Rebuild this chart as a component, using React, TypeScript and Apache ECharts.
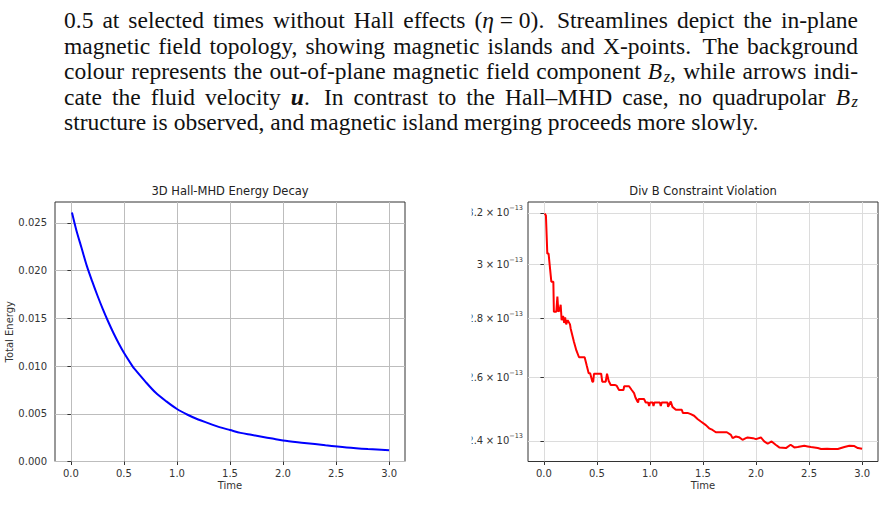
import { useEffect, useRef } from "react";
import * as echarts from "echarts";

// ---- Energy decay (left panel) ----
const ENERGY_TIME = [
  0.01, 0.05, 0.1, 0.15, 0.2, 0.25, 0.3, 0.35, 0.4, 0.45, 0.5, 0.58, 0.6, 0.7, 0.8, 0.9, 1.0,
  1.1, 1.2, 1.3, 1.4, 1.5, 1.6, 1.7, 1.8, 1.9, 2.0, 2.2, 2.4, 2.6, 2.8, 3.0,
];
const ENERGY_VALUE = [
  0.0261, 0.0243, 0.0224, 0.0205, 0.0189, 0.0174, 0.016, 0.0147, 0.0135, 0.0124, 0.0114, 0.01,
  0.0097, 0.0084, 0.0072, 0.0063, 0.0055, 0.0049, 0.0044, 0.004, 0.0036, 0.0033, 0.003, 0.0028,
  0.0026, 0.0024, 0.0022, 0.00195, 0.0017, 0.00148, 0.00131, 0.00117,
];

// ---- Div B violation (right panel), values in units of 1e-13 ----
const DIVB_UNIT = 1e-13;
const DIVB_TIME = [
  0.007, 0.019, 0.032, 0.044, 0.07, 0.089, 0.094, 0.117, 0.127, 0.136, 0.148, 0.158, 0.167, 0.181,
  0.191, 0.2, 0.21, 0.224, 0.246, 0.252, 0.266, 0.283, 0.306, 0.331, 0.384, 0.403, 0.422, 0.436,
  0.457, 0.465, 0.472, 0.54, 0.55, 0.583, 0.595, 0.611, 0.63, 0.668, 0.686, 0.708, 0.75, 0.757,
  0.803, 0.828, 0.85, 0.863, 0.882, 0.888, 0.894, 0.944, 0.96, 0.982, 0.992, 1.001, 1.026, 1.033,
  1.042, 1.093, 1.102, 1.111, 1.165, 1.171, 1.196, 1.212, 1.244, 1.3, 1.31, 1.354, 1.385, 1.416,
  1.451, 1.48, 1.527, 1.558, 1.59, 1.621, 1.725, 1.763, 1.779, 1.81, 1.839, 1.873, 1.904, 1.92,
  1.971, 1.999, 2.046, 2.077, 2.11, 2.147, 2.185, 2.219, 2.282, 2.326, 2.361, 2.393, 2.455, 2.487,
  2.518, 2.582, 2.613, 2.67, 2.707, 2.771, 2.833, 2.88, 2.927, 2.96, 3.0,
];
const DIVB_VALUE = [
  3.198, 3.19, 3.04, 3.04, 2.934, 2.934, 2.825, 2.825, 2.879, 2.825, 2.83, 2.85, 2.795, 2.81,
  2.785, 2.805, 2.78, 2.795, 2.78, 2.766, 2.745, 2.72, 2.69, 2.667, 2.667, 2.64, 2.614, 2.614,
  2.586, 2.586, 2.612, 2.612, 2.586, 2.586, 2.612, 2.588, 2.575, 2.575, 2.573, 2.559, 2.559, 2.571,
  2.571, 2.559, 2.549, 2.535, 2.522, 2.519, 2.53, 2.53, 2.519, 2.519, 2.508, 2.519, 2.519, 2.508,
  2.519, 2.519, 2.508, 2.519, 2.519, 2.505, 2.522, 2.505, 2.496, 2.496, 2.486, 2.486, 2.482, 2.477,
  2.466, 2.459, 2.448, 2.438, 2.433, 2.426, 2.426, 2.418, 2.408, 2.413, 2.411, 2.403, 2.408, 2.41,
  2.408, 2.405, 2.41, 2.398, 2.391, 2.398, 2.388, 2.38, 2.378, 2.388, 2.38, 2.381, 2.385, 2.383,
  2.381, 2.378, 2.375, 2.376, 2.375, 2.375, 2.381, 2.385, 2.384, 2.378, 2.376,
];

// ---- Ticks ----
const TIME_TICKS = [0, 0.5, 1, 1.5, 2, 2.5, 3];
const ENERGY_TICKS = [0, 0.005, 0.01, 0.015, 0.02, 0.025];
const DIVB_TICKS = [2.4, 2.6, 2.8, 3.0, 3.2];

const TITLES = ["3D Hall-MHD Energy Decay", "Div B Constraint Violation"];
const X_NAME = "Time";
const ENERGY_Y_NAME = "Total Energy";

// Caption text; {i:..} italic, {b:..} bold italic, {s:..} italic subscript
const CAPTION_LINES = [
  "0.5 at selected times without Hall effects ({i:η}\u00a0=\u00a00). Streamlines depict the in-plane",
  "magnetic field topology, showing magnetic islands and X-points. The background",
  "colour represents the out-of-plane magnetic field component {i:B}{s:z}, while arrows indi-",
  "cate the fluid velocity {b:u}. In contrast to the Hall–MHD case, no quadrupolar {i:B}{s:z}",
  "structure is observed, and magnetic island merging proceeds more slowly.",
];

const SANS = "DejaVu Sans";
const SERIF = "Liberation Serif";
const CAP_SIZE = 23.5;
const CAP_LEFT = 64;
const CAP_RIGHT = 858;
const CAP_TOP = 20;
const CAP_STEP = 25.5;

type Seg = { text: string; kind: string };

function parseWord(w: string): Seg[] {
  const segs: Seg[] = [];
  const re = /\{([ibs]):([^}]*)\}/g;
  let last = 0;
  let m: RegExpExecArray | null;
  while ((m = re.exec(w))) {
    if (m.index > last) segs.push({ text: w.slice(last, m.index), kind: "n" });
    segs.push({ text: m[2], kind: m[1] });
    last = re.lastIndex;
  }
  if (last < w.length) segs.push({ text: w.slice(last), kind: "n" });
  return segs;
}

function segStyle(kind: string) {
  return {
    fontStyle: kind === "n" ? "normal" : "italic",
    fontWeight: kind === "b" ? "bold" : "normal",
    fontSize: kind === "s" ? CAP_SIZE * 0.7 : CAP_SIZE,
  };
}

function buildCaption(): any[] {
  const canvas = document.createElement("canvas");
  const ctx = canvas.getContext("2d")!;
  const measure = (s: Seg) => {
    const st = segStyle(s.kind);
    ctx.font = `${st.fontStyle} ${st.fontWeight} ${st.fontSize}px "${SERIF}"`;
    // a subscript sits slightly clear of its base letter
    return ctx.measureText(s.text).width + (s.kind === "s" ? 1.5 : 0);
  };
  ctx.font = `normal normal ${CAP_SIZE}px "${SERIF}"`;
  const spaceW = ctx.measureText(" ").width;
  const out: any[] = [];
  CAPTION_LINES.forEach((line, li) => {
    const words = line.split(" ").map(parseWord);
    const widths = words.map((segs) => segs.reduce((a, s) => a + measure(s), 0));
    const total = widths.reduce((a, b) => a + b, 0);
    const justify = li < CAPTION_LINES.length - 1;
    // sentence ends get a little more room, as in typeset text
    const weights = words.slice(0, -1).map((segs) => {
      const last = segs[segs.length - 1].text;
      return /[.]$/.test(last) && !/^\d/.test(last) ? 1.4 : 1;
    });
    const wsum = weights.reduce((a, b) => a + b, 0);
    const unit = justify ? (CAP_RIGHT - CAP_LEFT - total) / wsum : spaceW;
    let x = CAP_LEFT;
    const y = CAP_TOP + li * CAP_STEP;
    words.forEach((segs, wi) => {
      let sx = x;
      segs.forEach((s) => {
        const st = segStyle(s.kind);
        out.push({
          type: "text",
          x: sx + (s.kind === "s" ? 1.5 : 0),
          y: y + (s.kind === "s" ? 5 : 0),
          silent: true,
          style: {
            text: s.text,
            fontFamily: SERIF,
            fontSize: st.fontSize,
            fontStyle: st.fontStyle,
            fontWeight: st.fontWeight,
            fill: "#111",
            align: "left",
            verticalAlign: "middle",
          },
        });
        sx += measure(s);
      });
      x += widths[wi] + (wi < weights.length ? unit * weights[wi] : 0);
    });
  });
  return out;
}

export default function App() {
  const ref = useRef<HTMLDivElement>(null);

  useEffect(() => {
    if (!ref.current) return;
    const chart = echarts.init(ref.current, undefined, { renderer: "svg" });

    const labelBase = { fontFamily: SANS, fontSize: 10, color: "#333" };
    const tickBase = { show: true, length: 3.5, lineStyle: { color: "#333", width: 1 } };
    const nameStyle = { fontFamily: SANS, fontSize: 10, color: "#333" };

    const divbMin = Math.log10(2.338 * DIVB_UNIT);
    const divbMax = Math.log10(3.2447 * DIVB_UNIT);
    const divbTickVals = DIVB_TICKS.map((m) => Math.log10(m * DIVB_UNIT));

    const timeAxis = (gridIndex: number, gridColor: string) => ({
      gridIndex,
      type: "value",
      min: -0.15,
      max: 3.15,
      axisLine: { show: false },
      axisTick: { ...tickBase, customValues: TIME_TICKS },
      axisLabel: {
        ...labelBase,
        margin: 7,
        customValues: TIME_TICKS,
        formatter: (v: number) => v.toFixed(1),
      },
      splitLine: { show: true, lineStyle: { color: gridColor, width: 1 } },
      name: X_NAME,
      nameLocation: "middle",
      nameGap: 19,
      nameTextStyle: nameStyle,
    });

    const option: any = {
      animation: false,
      backgroundColor: "#ffffff",
      grid: [
        {
          left: 55,
          top: 202,
          width: 350,
          height: 259.5,
          show: true,
          borderColor: "#333",
          borderWidth: 1,
          backgroundColor: "transparent",
          containLabel: false,
          outerBoundsMode: "none",
        },
        {
          left: 528,
          top: 202,
          width: 350,
          height: 259.5,
          show: true,
          borderColor: "#333",
          borderWidth: 1,
          backgroundColor: "transparent",
          containLabel: false,
          outerBoundsMode: "none",
        },
      ],
      xAxis: [timeAxis(0, "#bdbdbd"), timeAxis(1, "#dcdcdc")],
      yAxis: [
        {
          gridIndex: 0,
          type: "value",
          min: 0,
          max: 0.0272,
          axisLine: { show: false },
          axisTick: { ...tickBase, customValues: ENERGY_TICKS },
          axisLabel: {
            ...labelBase,
            margin: 8,
            customValues: ENERGY_TICKS,
            formatter: (v: number) => v.toFixed(3),
          },
          splitLine: { show: true, lineStyle: { color: "#bdbdbd", width: 1 } },
          name: ENERGY_Y_NAME,
          nameLocation: "middle",
          nameGap: 40,
          nameTextStyle: nameStyle,
        },
        {
          gridIndex: 1,
          type: "value",
          min: divbMin,
          max: divbMax,
          axisLine: { show: false },
          axisTick: { ...tickBase, customValues: divbTickVals },
          axisLabel: {
            margin: 5,
            customValues: divbTickVals,
            formatter: (v: number) => {
              const m = Math.pow(10, v) / DIVB_UNIT;
              let s = (Math.round(m * 10) / 10).toFixed(1);
              if (s.endsWith(".0")) s = s.slice(0, -2);
              return `{m|${s}\u2005×\u200510}{s|\u221213}`;
            },
            rich: {
              m: { fontFamily: SANS, fontSize: 10, color: "#333", lineHeight: 16 },
              s: { fontFamily: SANS, fontSize: 6.5, color: "#333", verticalAlign: "top" },
            },
          },
          splitLine: { show: true, lineStyle: { color: "#dcdcdc", width: 1 } },
        },
      ],
      series: [
        {
          type: "line",
          xAxisIndex: 0,
          yAxisIndex: 0,
          data: ENERGY_TIME.map((t, i) => [t, ENERGY_VALUE[i]]),
          symbol: "none",
          smooth: 0.3,
          lineStyle: { color: "#0000ff", width: 2 },
          itemStyle: { color: "#0000ff" },
        },
        {
          type: "line",
          xAxisIndex: 1,
          yAxisIndex: 1,
          data: DIVB_TIME.map((t, i) => [t, Math.log10(DIVB_VALUE[i] * DIVB_UNIT)]),
          symbol: "none",
          lineStyle: { color: "#ff0000", width: 2 },
          itemStyle: { color: "#ff0000" },
        },
      ],
      graphic: [
        ...buildCaption(),
        {
          type: "text",
          x: 230,
          y: 191,
          silent: true,
          style: {
            text: TITLES[0],
            fontFamily: SANS,
            fontSize: 11.5,
            fill: "#222",
            align: "center",
            verticalAlign: "middle",
          },
        },
        {
          type: "text",
          x: 703,
          y: 191,
          silent: true,
          style: {
            text: TITLES[1],
            fontFamily: SANS,
            fontSize: 11.5,
            fill: "#222",
            align: "center",
            verticalAlign: "middle",
          },
        },
        // the right panel's tick labels are trimmed at the figure's left edge
        {
          type: "rect",
          z: 1000,
          silent: true,
          shape: { x: 430, y: 200, width: 41.7, height: 255 },
          style: { fill: "#ffffff" },
        },
      ],
    };

    chart.setOption(option);
    return () => chart.dispose();
  }, []);

  return (
    <div
      ref={ref}
      style={{
        position: "absolute",
        left: 0,
        top: 0,
        width: 885,
        height: 525,
        background: "#ffffff",
      }}
    />
  );
}
